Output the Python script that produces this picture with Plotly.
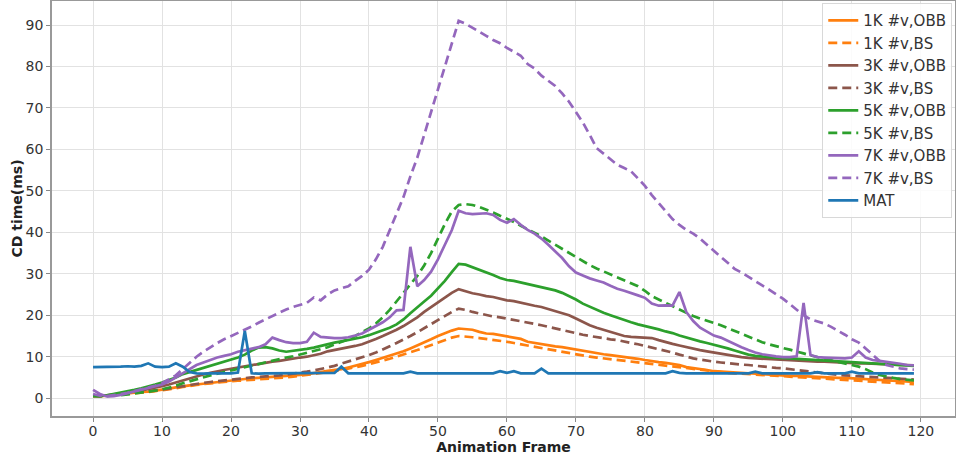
import plotly.graph_objects as go

frames = list(range(120))

mat = [7.5,7.5,7.6,7.5,7.6,7.7,7.6,7.8,8.4,7.6,7.5,7.6,8.4,7.6,6.3,6.0,5.9,6.0,6.0,6.0,
       6.0,6.2,16.2,6.0,5.9,6.0,6.0,6.1,6.0,6.0,6.0,6.0,6.0,6.0,6.0,6.1,7.6,6.0,6.0,6.0,
       6.0,6.0,6.0,6.0,6.0,6.0,6.4,6.0,6.0,6.0,6.0,6.0,6.0,6.0,6.0,6.0,6.0,6.0,6.0,6.5,
       6.1,6.5,6.0,6.0,6.0,7.1,6.0,6.0,6.0,6.0,6.0,6.0,6.0,6.0,6.0,6.0,6.0,6.0,6.0,6.0,
       6.0,6.0,6.0,6.0,6.5,6.1,6.0,6.0,6.0,6.0,6.0,6.0,6.0,6.0,6.0,6.0,6.4,6.0,6.0,6.0,
       6.0,6.0,6.0,6.0,6.0,6.3,6.0,6.0,6.0,6.0,6.4,6.0,6.0,6.0,6.0,6.0,6.0,6.0,6.0,6.0]

k1_obb = [0.6,0.5,0.6,0.8,0.9,1.1,1.3,1.5,1.6,1.8,2.0,2.3,2.6,2.9,3.1,3.3,3.5,3.7,3.9,4.1,
          4.3,4.5,4.6,4.8,4.9,5.0,5.1,5.2,5.4,5.5,5.6,5.8,6.0,6.3,6.6,6.8,7.0,7.4,7.8,8.3,
          8.7,9.2,9.7,10.2,10.7,11.3,12.0,12.7,13.5,14.2,15.0,15.7,16.3,16.8,16.7,16.5,16.0,15.6,15.5,15.2,
          14.9,14.6,14.3,13.6,13.3,13.1,12.8,12.5,12.3,12.0,11.7,11.4,11.1,10.9,10.6,10.4,10.2,10.0,9.8,9.5,
          9.2,8.9,8.7,8.5,8.3,8.0,7.5,7.3,7.0,6.8,6.5,6.4,6.2,6.1,6.0,5.9,5.8,5.7,5.7,5.6,
          5.5,5.4,5.4,5.3,5.2,5.1,5.1,5.0,4.9,4.9,4.8,4.7,4.6,4.5,4.4,4.3,4.2,4.1,4.0,3.9]

k1_bs = [0.5,0.5,0.6,0.7,0.8,1.0,1.2,1.3,1.5,1.7,1.9,2.1,2.4,2.7,3.0,3.2,3.4,3.6,3.8,4.0,
         4.1,4.2,4.3,4.4,4.5,4.6,4.7,4.9,5.0,5.2,5.4,5.6,5.8,6.0,6.3,6.5,6.8,7.1,7.4,7.8,
         8.2,8.6,9.0,9.5,10.0,10.5,11.0,11.6,12.2,12.8,13.4,14.0,14.6,15.0,14.9,14.7,14.5,14.3,14.1,13.9,
         13.6,13.3,13.0,12.6,12.3,12.0,11.7,11.4,11.1,10.8,10.5,10.2,10.0,9.8,9.6,9.4,9.2,9.0,8.8,8.6,
         8.4,8.2,8.0,7.8,7.6,7.4,7.2,7.0,6.8,6.6,6.4,6.3,6.1,6.0,5.9,5.8,5.7,5.6,5.5,5.4,
         5.3,5.2,5.1,5.0,4.9,4.8,4.7,4.6,4.5,4.4,4.3,4.2,4.1,4.0,3.9,3.8,3.7,3.6,3.5,3.4]

k3_obb = [0.6,0.5,0.7,0.9,1.1,1.3,1.6,1.9,2.2,2.5,2.9,3.3,3.8,4.3,4.8,5.3,5.7,6.1,6.5,6.8,
          7.1,7.4,7.7,8.0,8.3,8.6,8.8,9.0,9.3,9.5,9.8,10.0,10.3,10.7,11.3,11.6,11.9,12.3,12.6,13.0,
          13.6,14.3,15.0,15.7,16.5,17.4,18.4,19.5,20.8,22.0,23.2,24.3,25.4,26.3,25.8,25.3,25.0,24.6,24.4,24.0,
          23.6,23.4,23.0,22.6,22.3,22.0,21.5,21.0,20.5,20.0,19.2,18.4,17.6,17.0,16.5,16.0,15.4,15.0,14.8,14.7,
          14.6,14.5,14.0,13.5,13.1,12.7,12.3,12.0,11.6,11.3,11.0,10.8,10.5,10.2,9.9,9.7,9.6,9.5,9.4,9.3,
          9.2,9.1,9.0,9.0,8.9,8.8,8.8,8.7,8.6,8.6,8.5,8.4,8.4,8.3,8.2,8.2,8.1,8.0,8.0,7.9]

k3_bs = [0.5,0.5,0.6,0.7,0.9,1.0,1.2,1.4,1.6,1.8,2.0,2.3,2.6,2.9,3.2,3.5,3.7,3.9,4.1,4.3,
         4.5,4.7,4.9,5.0,5.1,5.2,5.4,5.5,5.7,5.9,6.1,6.4,6.7,7.0,7.4,7.8,8.3,8.8,9.3,9.9,
         10.4,11.0,11.7,12.5,13.3,14.1,15.0,15.9,16.9,17.8,18.8,19.8,20.8,21.6,21.3,20.8,20.4,20.0,19.7,19.5,
         19.2,18.9,18.6,18.3,18.0,17.6,17.2,16.8,16.4,16.0,15.6,15.3,15.0,14.7,14.4,14.2,14.0,13.6,13.3,13.0,
         12.6,12.3,11.9,11.5,11.0,10.5,10.0,9.6,9.3,9.0,8.8,8.6,8.4,8.3,8.1,8.0,7.8,7.6,7.4,7.3,
         7.2,7.0,6.8,6.6,6.3,6.1,5.9,5.8,5.6,5.5,5.4,5.3,5.2,5.1,5.0,4.9,4.8,4.7,4.6,4.5]

k5_obb = [0.6,0.5,0.7,1.0,1.3,1.6,2.0,2.4,2.8,3.3,3.8,4.4,5.0,5.8,6.3,6.8,7.3,7.8,8.3,8.8,
          9.3,9.8,10.5,11.5,12.2,12.3,12.0,11.5,11.2,11.4,11.6,11.9,12.2,12.6,13.1,13.4,13.7,14.0,14.3,14.7,
          15.2,15.8,16.4,17.0,17.8,19.0,20.5,22.0,23.3,24.7,26.4,28.3,30.4,32.4,32.2,31.6,30.9,30.4,29.7,29.0,
          28.5,28.3,27.9,27.5,27.1,26.8,26.4,26.0,25.4,24.6,23.8,22.8,22.0,21.3,20.6,20.0,19.4,18.8,18.3,17.8,
          17.4,17.1,16.6,16.1,15.7,15.1,14.6,14.1,13.7,13.3,12.9,12.4,12.0,11.5,11.0,10.5,10.2,10.0,9.9,9.8,
          9.7,9.6,9.5,9.4,9.3,9.2,9.1,9.0,8.9,8.8,8.7,8.6,8.5,8.4,8.3,8.2,8.1,8.0,7.9,7.8]

k5_bs = [0.5,0.5,0.5,0.6,0.7,0.9,1.1,1.3,1.5,1.8,2.1,2.5,3.0,3.6,4.1,4.6,5.1,5.5,5.9,6.3,
         6.7,7.1,7.5,7.9,8.3,8.7,9.0,9.4,9.8,10.1,10.5,10.9,11.3,11.8,12.3,12.9,13.5,14.2,15.0,15.9,
         16.8,18.0,19.5,21.3,23.4,25.5,27.5,29.5,32.0,35.0,38.5,42.0,45.0,46.6,46.8,46.6,46.1,45.5,44.8,44.0,
         43.3,42.5,41.6,40.8,39.9,39.0,38.0,37.0,36.0,35.0,34.0,33.0,32.1,31.3,30.6,29.9,29.2,28.5,27.8,27.0,
         25.9,24.6,23.8,23.0,22.2,21.4,20.6,19.8,19.2,18.7,18.2,17.6,16.9,16.2,15.5,14.8,14.1,13.5,13.0,12.5,
         12.1,11.7,11.3,10.8,10.3,9.9,9.5,9.1,8.7,8.3,8.0,7.6,7.0,6.2,5.6,5.2,4.9,4.6,4.4,4.3]

k7_obb = [2.0,1.0,0.4,0.5,0.8,1.2,1.6,2.0,2.4,2.8,3.3,4.0,5.0,6.0,7.2,8.0,8.6,9.2,9.8,10.2,
          10.6,11.2,11.6,12.0,12.3,13.0,14.6,14.0,13.5,13.3,13.3,13.6,15.8,14.8,14.6,14.5,14.5,14.7,15.1,15.6,
          16.5,17.3,18.3,19.5,21.2,21.3,36.5,27.0,28.5,30.5,33.5,37.0,40.5,45.2,44.6,44.4,44.5,44.6,44.2,43.0,
          42.3,43.2,41.8,40.6,39.7,38.5,37.0,35.5,33.8,31.8,30.3,29.6,28.9,28.4,27.9,27.1,26.4,25.9,25.4,24.8,
          24.2,22.8,22.3,22.4,22.3,25.6,20.8,18.6,17.0,16.0,15.1,14.6,13.8,12.9,12.3,11.6,11.0,10.6,10.3,10.1,
          9.9,9.9,10.1,23.0,10.4,9.9,9.8,9.7,9.7,9.6,9.8,11.3,9.8,9.2,9.0,8.8,8.6,8.3,8.0,7.9]

k7_bs = [1.0,0.6,0.5,0.7,1.0,1.3,1.7,2.1,2.5,3.0,3.6,4.5,5.5,7.0,8.5,10.0,11.2,12.3,13.3,14.2,
         15.0,15.7,16.4,17.3,18.2,19.0,19.8,20.6,21.4,22.0,22.5,23.0,24.3,23.6,25.0,26.0,26.5,27.0,28.3,29.5,
         31.0,33.5,36.5,40.5,44.8,48.5,53.5,58.0,63.5,69.0,75.0,80.0,85.5,91.0,90.3,89.4,88.4,87.4,86.4,85.6,
         84.5,83.5,82.6,80.6,79.5,77.8,76.6,75.3,73.5,71.5,69.0,66.5,63.5,60.3,59.0,57.7,56.3,55.5,54.7,53.0,
         51.2,49.0,47.0,45.0,43.2,41.8,40.6,39.7,38.5,37.0,35.6,34.2,32.6,31.2,30.3,29.2,28.1,27.2,26.2,25.2,
         24.0,22.7,21.3,20.0,19.0,18.5,18.0,17.2,16.3,15.3,14.2,13.4,12.0,10.5,9.0,8.0,7.6,7.2,7.0,6.9]

series_names = ["1K #v,OBB", "1K #v,BS", "3K #v,OBB", "3K #v,BS",
                "5K #v,OBB", "5K #v,BS", "7K #v,OBB", "7K #v,BS", "MAT"]
series_values = [k1_obb, k1_bs, k3_obb, k3_bs, k5_obb, k5_bs, k7_obb, k7_bs, mat]
series_colors = ["#ff7f0e", "#ff7f0e", "#8c564b", "#8c564b", "#2ca02c", "#2ca02c",
                 "#9467bd", "#9467bd", "#1f77b4"]
series_dash = ["solid", "9px,5px", "solid", "9px,5px", "solid", "9px,5px",
               "solid", "9px,5px", "solid"]

x_ticks = list(range(0, 121, 10))
y_ticks = list(range(0, 91, 10))

fig = go.Figure()
for name, vals, col, dash in zip(series_names, series_values, series_colors, series_dash):
    fig.add_trace(go.Scatter(x=frames, y=vals, mode="lines", name=name,
                             line=dict(color=col, width=2.7, dash=dash)))

font_family = "DejaVu Sans, Arial, sans-serif"
fig.update_layout(
    width=956, height=459,
    margin=dict(l=52, r=1, t=1, b=43, autoexpand=False),
    paper_bgcolor="white", plot_bgcolor="white",
    font=dict(family=font_family, size=14, color="#333333"),
    showlegend=True,
    legend=dict(x=0.853, y=0.995, xanchor="left", yanchor="top",
                bgcolor="rgba(255,255,255,0.85)", bordercolor="#d8d8d8", borderwidth=1,
                font=dict(size=15, color="#333333"), itemwidth=30,
                tracegroupgap=0),
)
fig.update_xaxes(
    range=[-5.95, 124.95], tickvals=x_ticks, ticks="outside", ticklen=4, tickcolor="#888888",
    ticklabelstandoff=-3,
    showgrid=True, gridcolor="#e2e2e2", gridwidth=1, zeroline=False, automargin=False,
    showline=True, linecolor="#999999", linewidth=1.5, mirror=True,
    title=dict(text="<b>Animation Frame</b>", font=dict(size=14, color="#222222"), standoff=2),
)
fig.update_yaxes(
    range=[-4.3, 95.8], tickvals=y_ticks, ticks="outside", ticklen=4, tickcolor="#888888",
    showgrid=True, gridcolor="#e2e2e2", gridwidth=1, zeroline=False, automargin=False,
    showline=True, linecolor="#999999", linewidth=1.5, mirror=True,
    title=dict(text="<b>CD time(ms)</b>", font=dict(size=14, color="#222222"), standoff=0),
)

fig.write_html("out.html", config={"displayModeBar": False},
               post_script="document.body.style.margin='0';document.body.style.overflow='hidden';")
